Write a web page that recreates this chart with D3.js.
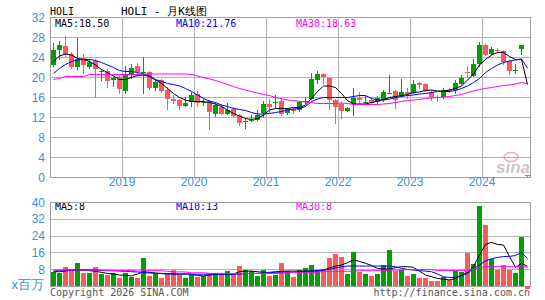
<!DOCTYPE html>
<html>
<head>
<meta charset="utf-8">
<script src="https://cdn.jsdelivr.net/npm/d3@7"></script>
<style>
  body { margin: 0; background: #fff; }
  text { font-family: "DejaVu Sans Mono", "Liberation Mono", monospace; font-size: 10px; }
  .ax { font-family: "Liberation Sans", Arial, sans-serif; font-size: 12px; fill: #3d8fd6; }
</style>
</head>
<body>
<svg id="chart" width="545" height="300"></svg>
<script>
// monthly candles, Jan 2018 .. Aug 2024
const months = d3.timeMonths(new Date(2018, 0, 1), new Date(2024, 8, 1));

const openP = [22.4,25.4,26.2,24.6,22.1,23.9,22.1,23.3,21.2,21.3,19.5,20.1,17.3,20.7,22.2,20.8,
  21.1,17.9,19.4,17.4,15.6,15.4,14.2,15.1,16.6,14.8,15.2,12.7,14.1,12.7,13.6,12.4,
  11.0,11.3,11.4,12.9,14.6,14.8,15.3,12.9,13.6,13.5,15.0,15.6,19.4,20.6,19.9,15.4,
  14.6,13.3,14.6,15.9,14.8,15.4,15.1,15.4,16.8,17.3,16.2,17.1,16.9,18.9,18.6,17.1,
  16.1,16.1,17.5,17.4,18.7,21.1,20.3,22.7,26.4,24.7,25.5,25.3,23.3,21.3,25.7,0.5];
const highP = [26.9,27.3,28.2,25.1,27.9,24.7,23.7,23.7,21.4,21.7,20.1,20.7,22.2,22.7,22.9,24.1,
  21.3,19.5,19.6,18.1,16.5,15.6,16.1,17.1,17.3,15.6,15.5,14.9,14.6,14.9,14.1,12.7,
  11.9,12.4,13.4,15.3,15.7,16.4,15.7,13.9,13.9,15.3,16.1,20.9,21.3,20.9,20.1,15.7,
  15.1,14.1,17.9,17.1,16.4,16.1,16.2,17.4,20.4,17.4,19.7,17.9,19.4,19.1,18.9,17.4,
  16.4,17.9,17.9,19.4,20.4,22.2,23.7,27.1,26.7,26.1,25.9,25.5,23.5,22.7,26.4,0.5];
const lowP = [22.1,23.5,24.1,21.7,21.4,20.7,21.7,15.9,19.3,17.9,18.1,16.7,16.7,19.7,20.1,16.7,
  17.4,17.2,16.9,13.4,14.7,13.5,14.1,14.1,14.1,14.3,9.4,12.1,12.4,12.4,11.9,10.2,
  9.6,11.1,11.3,11.9,12.9,13.9,12.2,12.4,12.6,13.1,14.6,15.4,18.7,18.7,13.4,10.7,
  11.7,13.1,12.2,14.6,14.7,14.6,14.7,15.1,16.7,13.6,16.1,15.7,16.6,17.7,17.1,15.3,
  15.1,15.7,16.9,16.7,18.4,20.1,20.1,22.1,24.2,24.4,25.1,22.4,20.4,20.7,24.4,0.1];
const closeP = [25.4,26.5,24.6,22.1,23.7,22.4,23.1,21.7,21.3,19.3,19.9,17.6,20.4,21.9,21.1,21.0,
  17.9,19.1,17.3,15.6,15.2,14.3,14.9,16.4,14.9,15.0,13.1,14.4,12.7,13.4,12.2,10.9,
  11.3,11.5,12.4,14.6,14.1,15.1,12.6,13.6,13.2,15.1,15.2,19.6,20.7,20.1,15.5,14.1,
  13.2,13.9,15.9,15.4,15.0,14.9,15.9,17.1,16.9,15.4,17.1,16.6,18.6,18.5,17.3,16.1,
  16.0,17.4,17.3,18.9,19.9,20.9,22.7,26.4,24.4,25.6,25.3,23.1,21.3,21.5,26.4,0.2];

const ma5P = [23.1,24.2,24.6,24.4,23.7,23.5,23.1,22.4,21.5,20.9,20.2,19.5,19.5,19.9,20.3,20.4,
  20.1,19.4,18.7,17.7,16.7,15.9,15.4,15.1,15.1,15.1,14.9,14.6,14.1,13.4,12.7,12.2,
  11.7,11.5,11.7,12.4,13.4,13.7,13.7,13.7,13.9,13.9,14.4,15.7,17.1,18.2,18.2,17.9,
  16.7,15.3,14.6,14.6,14.6,14.9,15.2,15.5,15.9,16.1,16.3,16.5,16.9,17.0,17.3,17.4,
  17.2,17.2,17.4,17.7,18.2,19.4,20.6,22.4,23.5,24.4,24.9,24.9,24.1,23.5,23.5,18.5];
const ma10P = [20.7,21.7,22.5,23.1,23.4,23.5,23.5,23.3,22.9,22.4,21.9,21.3,21.1,21.1,20.9,20.6,
  20.2,19.5,19.1,18.7,18.5,18.2,17.7,17.1,16.4,15.7,15.2,14.9,14.4,14.1,13.7,13.5,
  13.3,12.9,12.6,12.6,12.7,12.9,13.1,13.4,13.6,13.7,14.1,15.1,15.6,15.9,15.9,15.9,
  15.9,15.9,16.1,16.3,16.3,15.7,15.4,15.4,15.6,15.9,16.1,16.3,16.4,16.6,16.7,16.9,
  17.1,17.1,17.1,17.3,17.7,18.2,18.9,19.7,20.9,21.7,22.4,22.9,23.2,23.4,23.6,21.76];
const ma30P = [19.5,19.7,20.1,20.1,20.1,20.1,20.5,20.5,20.5,20.5,20.5,20.5,20.5,20.5,20.5,20.6,
  20.6,20.6,20.6,20.6,20.6,20.6,20.6,20.5,20.2,19.9,19.6,19.3,18.9,18.5,18.1,17.7,
  17.4,17.1,16.8,16.5,16.3,15.9,15.7,15.4,15.3,15.1,15.0,14.9,14.7,14.7,14.7,14.7,
  14.8,14.7,14.5,14.5,14.5,14.5,14.5,14.6,14.7,14.9,15.1,15.3,15.4,15.5,15.7,15.8,
  15.9,16.0,16.1,16.3,16.5,16.9,17.2,17.5,17.7,17.9,18.1,18.3,18.4,18.6,18.9,18.63];

// volume, millions
const volume = [6.8,6.0,9.2,7.6,11.1,6.3,6.3,9.2,5.7,5.2,6.0,4.0,6.3,4.4,4.0,13.5,
  4.9,5.7,4.0,5.6,7.6,5.2,4.0,5.2,4.4,4.8,6.0,6.0,5.6,7.1,5.6,9.5,
  7.6,7.3,4.8,7.6,4.8,5.2,11.1,7.3,4.1,7.6,8.4,10.0,7.6,7.6,13.2,15.2,
  14.0,5.7,16.3,6.8,5.7,4.8,5.7,10.0,17.1,7.3,7.6,4.8,5.7,4.0,4.0,2.4,
  2.4,4.1,2.9,7.3,6.8,15.9,10.5,38.1,29.0,12.7,7.6,10.0,7.6,6.0,23.5,-1.6];
const ma5V = [6.8,6.8,7.1,7.6,7.6,7.6,7.3,7.0,6.5,6.0,5.7,5.2,5.1,4.8,5.7,6.8,
  6.5,6.2,6.0,5.9,5.7,5.7,5.7,5.6,5.0,4.8,5.2,5.6,5.7,5.7,5.7,6.8,
  7.1,7.1,6.8,6.5,6.5,6.8,7.0,7.1,7.1,7.1,7.1,7.1,7.3,7.6,8.6,9.5,
  10.0,11.1,12.4,11.7,10.8,9.8,8.4,8.1,8.1,8.7,9.2,9.2,8.9,7.1,5.2,4.4,
  3.6,3.2,2.9,3.6,5.2,6.3,9.2,14.8,19.8,20.8,19.8,19.5,14.0,8.9,10.8,9.4];
const ma10V = [7.1,7.3,7.4,7.6,7.6,7.6,7.6,7.6,7.4,7.3,7.3,7.1,7.0,6.8,6.7,6.3,
  6.2,6.0,5.9,5.7,5.7,5.7,5.7,5.6,5.6,5.6,5.6,5.6,5.6,5.6,5.6,5.7,
  5.9,6.0,6.0,6.2,6.3,6.5,6.7,6.5,6.7,6.8,7.0,7.1,7.3,7.6,7.9,8.6,
  9.2,9.5,9.5,9.5,9.5,9.5,9.5,9.5,9.5,9.2,8.4,7.9,7.6,7.3,7.1,6.8,
  5.7,4.4,4.1,4.1,4.9,6.0,8.3,10.0,12.0,13.0,13.6,14.0,14.1,14.5,16.0,13.0];
const ma30V = [7.6,7.6,7.6,7.6,7.6,7.6,7.6,7.6,7.6,7.4,7.4,7.4,7.4,7.4,7.1,7.3,
  7.3,7.3,7.3,7.0,6.7,6.7,6.7,6.3,6.3,6.3,6.0,6.0,6.0,6.0,6.0,6.0,
  6.0,6.0,6.0,6.0,6.0,6.0,6.0,6.5,6.5,6.5,6.5,6.5,6.5,7.0,7.0,7.0,
  7.0,7.0,7.0,7.3,7.3,7.3,7.3,7.3,7.6,7.6,7.6,7.8,7.8,7.8,7.8,7.8,
  7.4,7.4,7.4,7.4,7.4,7.4,7.9,8.7,9.2,9.2,9.2,9.2,9.2,9.2,9.2,9.0];

const priceTicks = [0,4,8,12,16,20,24,28,32];
const volTicks = [8,16,24,32,40];
const yearLabels = ["2019","2020","2021","2022","2023","2024"];
const priceLegend = ["MA5:18.50","MA10:21.76","MA30:18.63"];
const volLegend = ["MA5:8","MA10:13","MA30:8"];

const UP = "#00a000", DOWN = "#fa5a5a", GRID = "#b4b4b4";
const lineColors = ["#000000","#0000ff","#ff00ff"];

const svg = d3.select("#chart");
const L = 50, R = 530;

const x = d3.scaleBand().domain(d3.range(months.length)).range([L, R]);
const yP = d3.scaleLinear().domain([0, 32]).range([177, 17]);
const yV = d3.scaleLinear().domain([0, 40]).range([286, 202]);
const cx = i => x(i) + 3.5;

// ---- price panel grid
svg.append("g").selectAll("line").data(priceTicks.slice(1, -1)).join("line")
  .attr("x1", L).attr("x2", R)
  .attr("y1", d => Math.round(yP(d)) + 0.5).attr("y2", d => Math.round(yP(d)) + 0.5)
  .attr("stroke", GRID);
svg.append("g").selectAll("line").data(yearLabels).join("line")
  .attr("x1", (d, k) => x(12 * (k + 1)) + 0.5).attr("x2", (d, k) => x(12 * (k + 1)) + 0.5)
  .attr("y1", yP(32)).attr("y2", yP(0))
  .attr("stroke", GRID);
svg.append("rect").attr("x", L + 0.5).attr("y", yP(32) + 0.5)
  .attr("width", R - L).attr("height", yP(0) - yP(32))
  .attr("fill", "none").attr("stroke", "#a0a0a0");

// price axis labels
svg.append("g").selectAll("text").data(priceTicks).join("text")
  .attr("class", "ax").attr("x", 45).attr("y", d => yP(d) + 4.5)
  .attr("text-anchor", "end").text(d => d);
svg.append("g").selectAll("text").data(yearLabels).join("text")
  .attr("class", "ax").attr("x", (d, k) => x(12 * (k + 1)))
  .attr("y", 186).attr("text-anchor", "middle").text(d => d);

// watermark
const wm = svg.append("g").attr("opacity", 0.55);
wm.append("ellipse").attr("cx", 511).attr("cy", 157).attr("rx", 7).attr("ry", 4.5)
  .attr("fill", "none").attr("stroke", "#e07070").attr("stroke-width", 1.5);
wm.append("text").attr("x", 496).attr("y", 173)
  .style("font-family", "Liberation Sans, Arial, sans-serif")
  .style("font-size", "17px").style("font-style", "italic").style("font-weight", "bold")
  .attr("fill", "#9a9a9a").text("sina");

// candles
const cg = svg.append("g").attr("shape-rendering", "crispEdges");
months.forEach((m, i) => {
  const up = closeP[i] >= openP[i];
  const col = up ? UP : DOWN;
  cg.append("line").attr("x1", cx(i)).attr("x2", cx(i))
    .attr("y1", yP(highP[i])).attr("y2", yP(lowP[i])).attr("stroke", col);
  const top = yP(Math.max(openP[i], closeP[i]));
  const bot = yP(Math.min(openP[i], closeP[i]));
  cg.append("rect").attr("x", x(i) + 1).attr("y", top)
    .attr("width", 5).attr("height", Math.max(1, bot - top)).attr("fill", col);
});

// MA lines
const lineP = d3.line().x((d, i) => cx(i)).y(d => yP(d));
[ma5P, ma10P, ma30P].forEach((s, k) => {
  svg.append("path").datum(s).attr("d", lineP)
    .attr("fill", "none").attr("stroke", lineColors[k]).attr("stroke-width", 1);
});

// legends
[55, 176, 296].forEach((lx, k) => {
  svg.append("text").attr("x", lx).attr("y", 27).attr("fill", lineColors[k]).text(priceLegend[k]);
  svg.append("text").attr("x", lx).attr("y", 210).attr("fill", lineColors[k]).text(volLegend[k]);
});

// header
svg.append("text").attr("x", 50).attr("y", 15).attr("fill", "#000").text("HOLI");
svg.append("text").attr("x", 121).attr("y", 15).attr("fill", "#000")
  .style("font-size", "11px").text("HOLI - 月K线图");

// ---- volume panel
svg.append("g").selectAll("line").data(volTicks.slice(0, -1)).join("line")
  .attr("x1", L).attr("x2", R)
  .attr("y1", d => Math.round(yV(d)) + 0.5).attr("y2", d => Math.round(yV(d)) + 0.5)
  .attr("stroke", GRID);
svg.append("rect").attr("x", L + 0.5).attr("y", yV(40) + 0.5)
  .attr("width", R - L).attr("height", yV(0) - yV(40))
  .attr("fill", "none").attr("stroke", "#a0a0a0");

svg.append("g").selectAll("text").data(volTicks).join("text")
  .attr("class", "ax").attr("x", 45).attr("y", d => yV(d) + 4.5)
  .attr("text-anchor", "end").text(d => d);
svg.append("text").attr("class", "ax").attr("x", 44).attr("y", 289)
  .attr("text-anchor", "end").style("font-size", "13px").text("x百万");

const vg = svg.append("g").attr("shape-rendering", "crispEdges");
volume.forEach((v, i) => {
  const col = closeP[i] >= openP[i] ? UP : DOWN;
  const y0 = yV(0), y1 = yV(v);
  vg.append("rect").attr("x", x(i) + 1).attr("y", Math.min(y0, y1))
    .attr("width", 5).attr("height", Math.abs(y1 - y0)).attr("fill", col);
});

const lineV = d3.line().x((d, i) => cx(i)).y(d => yV(d));
[ma5V, ma10V, ma30V].forEach((s, k) => {
  svg.append("path").datum(s).attr("d", lineV)
    .attr("fill", "none").attr("stroke", lineColors[k]).attr("stroke-width", 1);
});

// footer
svg.append("text").attr("x", 50).attr("y", 296).attr("fill", "#555").text("Copyright 2026 SINA.COM");
svg.append("text").attr("x", 530).attr("y", 296).attr("fill", "#555")
  .attr("text-anchor", "end").text("http://finance.sina.com.cn");
</script>
</body>
</html>
